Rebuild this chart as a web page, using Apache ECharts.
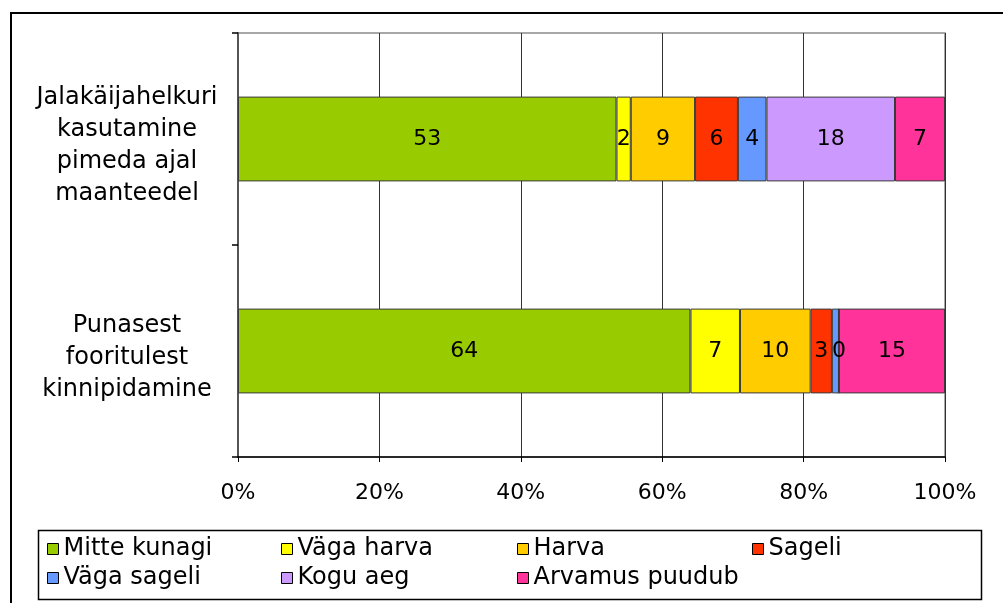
<!DOCTYPE html>
<html>
<head>
<meta charset="utf-8">
<script src="https://cdn.jsdelivr.net/npm/echarts@6/dist/echarts.min.js"></script>
<style>
  html, body { margin: 0; padding: 0; background: #fff; }
  #chart { width: 1003px; height: 603px; }
</style>
</head>
<body>
<div id="chart"></div>
<script>
// Survey answers per question (counts in percent of respondents)
const categories = [
  'Jalakäijahelkuri\nkasutamine\npimeda ajal\nmaanteedel',
  'Punasest\nfooritulest\nkinnipidamine'
];
const seriesNames = ['Mitte kunagi', 'Väga harva', 'Harva', 'Sageli', 'Väga sageli', 'Kogu aeg', 'Arvamus puudub'];
const mitteKunagi = [53, 64];
const vagaHarva = [2, 7];
const harva = [9, 10];
const sageli = [6, 3];
const vagaSageli = [4, 1];
const koguAeg = [18, 0];
const arvamusPuudub = [7, 15];
const xTickLabels = ['0%', '20%', '40%', '60%', '80%', '100%'];

const seriesValues = [mitteKunagi, vagaHarva, harva, sageli, vagaSageli, koguAeg, arvamusPuudub];
const colors = ['#99CC00', '#FFFF00', '#FFCC00', '#FF3300', '#6699FF', '#CC99FF', '#FF3399'];

// Totals per category, used to stack each row to 100%
const totals = categories.map((_, i) => seriesValues.reduce((s, arr) => s + arr[i], 0));

const FONT = 'Verdana, "DejaVu Sans", sans-serif';

// A 1% sliver is too thin for its own label; the neighbouring label covers it
const labelVisible = v => v === 0 || v >= 2;

const series = seriesNames.map((name, k) => ({
  name: name,
  type: 'bar',
  stack: 'all',
  barCategoryGap: '60%',
  itemStyle: { color: colors[k], borderColor: '#3a3a3a', borderWidth: 1 },
  label: {
    show: true,
    position: 'inside',
    color: '#000',
    fontFamily: FONT,
    fontSize: 22,
    formatter: p => String(seriesValues[k][p.dataIndex])
  },
  emphasis: { disabled: true },
  data: seriesValues[k].map((v, i) => ({
    value: v / totals[i] * 100,
    label: { show: labelVisible(v) }
  }))
}));

// Legend laid out as a 4-column grid inside a framed box
const legendSlots = [
  [47, 537], [281, 537], [517, 537], [752, 537],
  [47, 566], [281, 566], [517, 566]
];
const legends = seriesNames.map((name, k) => ({
  data: [name],
  left: legendSlots[k][0],
  top: legendSlots[k][1],
  padding: 0,
  itemWidth: 11,
  itemHeight: 11,
  itemGap: 0,
  selectedMode: false,
  icon: 'rect',
  itemStyle: { borderColor: '#000', borderWidth: 1 },
  textStyle: { fontFamily: FONT, fontSize: 24, color: '#000', padding: [0, 0, 0, 0] }
}));

const chart = echarts.init(document.getElementById('chart'), null, { renderer: 'canvas' });
chart.setOption({
  animation: false,
  backgroundColor: '#fff',
  graphic: [
    {
      type: 'rect',
      shape: { x: 11, y: 13, width: 1100, height: 700 },
      style: { fill: 'none', stroke: '#000', lineWidth: 2 },
      silent: true, z: -1
    },
    {
      type: 'rect',
      shape: { x: 38.5, y: 530.5, width: 943, height: 69 },
      style: { fill: '#fff', stroke: '#000', lineWidth: 1.5 },
      silent: true, z: -1
    }
  ],
  legend: legends,
  grid: {
    left: 238, right: 58, top: 33, bottom: 146,
    show: true, borderColor: '#8a8a8a', borderWidth: 1.5, backgroundColor: 'transparent'
  },
  xAxis: {
    type: 'value',
    min: 0, max: 100, interval: 20,
    axisLine: { show: true, onZero: false, lineStyle: { color: '#000', width: 1.5 } },
    axisTick: { show: true, length: 5, lineStyle: { color: '#000' } },
    splitLine: { show: true, lineStyle: { color: '#333', width: 1 } },
    axisLabel: {
      margin: 25,
      color: '#000',
      fontFamily: FONT,
      fontSize: 22,
      formatter: v => xTickLabels[Math.round(v / 20)]
    }
  },
  yAxis: {
    type: 'category',
    inverse: true,
    data: categories,
    axisLine: { show: true, lineStyle: { color: '#555', width: 2 } },
    axisTick: { show: true, length: 6, inside: false, lineStyle: { color: '#000', width: 1.5 } },
    axisLabel: {
      margin: 111,
      align: 'center',
      color: '#000',
      fontFamily: FONT,
      fontSize: 24,
      lineHeight: 32,
      // a short blank line on top nudges the text block slightly below the bar centre
      formatter: v => '{gap|\u00a0}\n' + v,
      rich: { gap: { fontSize: 2, lineHeight: 14 } }
    }
  },
  series: series
});
</script>
</body>
</html>
